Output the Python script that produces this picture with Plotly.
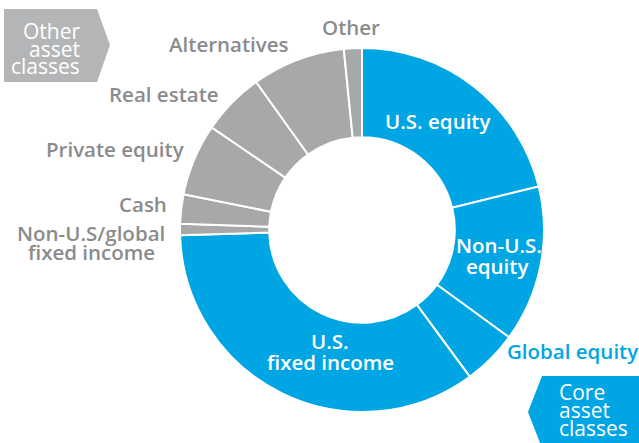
import plotly.graph_objects as go

W, H = 639, 443

categories = ["U.S. equity", "Non-U.S. equity", "Global equity", "U.S. fixed income",
              "Non-U.S/global fixed income", "Cash", "Private equity", "Real estate",
              "Alternatives", "Other"]
values = [21.2, 13.9, 4.9, 34.7, 1.0, 2.6, 6.4, 5.6, 8.3, 1.6]
groups = ["core", "core", "core", "core", "other", "other", "other", "other", "other", "other"]

BLUE = "#00A5E3"
GRAY = "#A7A8AA"
TEXT_GRAY = "#8A8B8D"
BADGE_GRAY = "#B4B5B7"
FONT = "Open Sans"

colors = [BLUE if g == "core" else GRAY for g in groups]

cx, cy, R = 362, 230, 182


def px(x):
    return x / W


def py(y):
    return 1 - y / H


fig = go.Figure(go.Pie(
    labels=categories, values=values, sort=False, direction="clockwise", rotation=0,
    hole=0.51, textinfo="none", hoverinfo="label+percent",
    marker=dict(colors=colors, line=dict(color="white", width=2)),
    domain=dict(x=[px(cx - R), px(cx + R)], y=[py(cy + R), py(cy - R)]),
    showlegend=False,
))

ann = []


def label(text, x, y, color, size=20.5, anchor="center", weight=600):
    ann.append(dict(text=text, x=px(x), y=py(y), xref="paper", yref="paper",
                    xanchor=anchor, yanchor="middle", showarrow=False,
                    font=dict(family=FONT, size=size, color=color, weight=weight)))


# inside labels
label("U.S. equity", 437, 121, "white")
label("Non-U.S.", 499, 245, "white")
label("equity", 497, 266, "white")
label("U.S.", 330, 341, "white")
label("fixed income", 330, 362, "white")
# outside labels
label("Global equity", 572, 351, BLUE)
label("Other", 351, 27, TEXT_GRAY)
label("Alternatives", 229, 44, TEXT_GRAY)
label("Real estate", 164, 94, TEXT_GRAY)
label("Private equity", 115, 149, TEXT_GRAY)
label("Cash", 143, 204, TEXT_GRAY)
label("Non-U.S/global", 91, 233, TEXT_GRAY)
label("fixed income", 91, 252, TEXT_GRAY)

# badges
label("Other", 82, 31, "white", size=21, anchor="right", weight="normal")
label("asset", 82, 49, "white", size=21, anchor="right", weight="normal")
label("classes", 82, 66, "white", size=21, anchor="right", weight="normal")
label("Core", 557, 392, "white", size=21, anchor="left", weight="normal")
label("asset", 557, 410, "white", size=21, anchor="left", weight="normal")
label("classes", 557, 428, "white", size=21, anchor="left", weight="normal")


def path(pts):
    return "M " + " L ".join(f"{px(x):.5f},{py(y):.5f}" for x, y in pts) + " Z"


shapes = [
    dict(type="path", xref="paper", yref="paper", line=dict(width=0), fillcolor=BADGE_GRAY,
         layer="below",
         path=path([(4, 9), (97, 9), (110, 45), (97, 82), (4, 82)])),
    dict(type="path", xref="paper", yref="paper", line=dict(width=0), fillcolor=BLUE,
         layer="below",
         path=path([(645, 376), (542, 376), (528, 412), (542, 448), (645, 448)])),
]

fig.update_layout(width=W, height=H, margin=dict(l=0, r=0, t=0, b=0),
                  paper_bgcolor="white", plot_bgcolor="white",
                  annotations=ann, shapes=shapes)

fig.write_html("out.html", config={"displayModeBar": False},
               post_script="document.body.style.margin='0';document.body.style.overflow='hidden';")
